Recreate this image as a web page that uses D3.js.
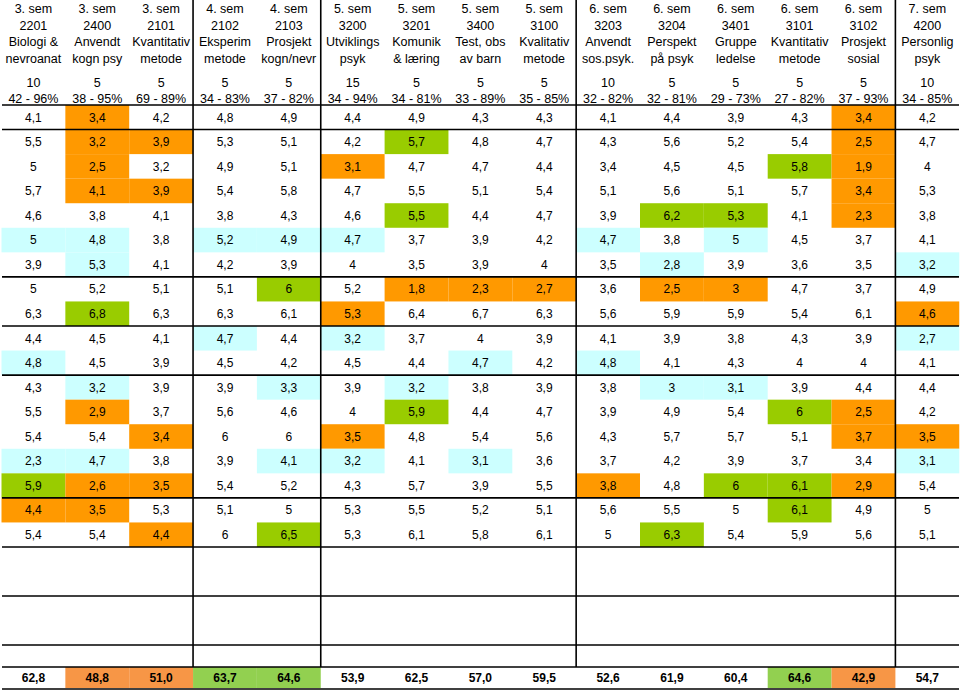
<!DOCTYPE html>
<html>
<head>
<meta charset="utf-8">
<script src="https://cdn.jsdelivr.net/npm/d3@7"></script>
<style>
  html, body { margin: 0; padding: 0; background: #fff; }
  svg { display: block; }
  text { font-family: "Liberation Sans", Arial, sans-serif; fill: #000; }
</style>
</head>
<body>
<svg id="chart" width="960" height="693"></svg>
<script>
// ---------- data ----------
const semesters = ["3. sem","3. sem","3. sem","4. sem","4. sem","5. sem","5. sem","5. sem","5. sem","6. sem","6. sem","6. sem","6. sem","6. sem","7. sem"];
const codes = ["2201","2400","2101","2102","2103","3200","3201","3400","3100","3203","3204","3401","3101","3102","4200"];
const names1 = ["Biologi &","Anvendt","Kvantitativ","Eksperim","Prosjekt","Utviklings","Komunik","Test, obs","Kvalitativ","Anvendt","Perspekt","Gruppe","Kvantitativ","Prosjekt","Personlig"];
const names2 = ["nevroanat","kogn psy","metode","metode","kogn/nevr","psyk","& læring","av barn","metode","sos.psyk.","på psyk","ledelse","metode","sosial","psyk"];
const credits = [10,5,5,5,5,15,5,5,5,10,5,5,5,5,10];
const ranges = ["42 - 96%","38 - 95%","69 - 89%","34 - 83%","37 - 82%","34 - 94%","34 - 81%","33 - 89%","35 - 85%","32 - 82%","32 - 81%","29 - 73%","27 - 82%","37 - 93%","34 - 85%"];

const values = [
  [4.1,3.4,4.2,4.8,4.9,4.4,4.9,4.3,4.3,4.1,4.4,3.9,4.3,3.4,4.2],
  [5.5,3.2,3.9,5.3,5.1,4.2,5.7,4.8,4.7,4.3,5.6,5.2,5.4,2.5,4.7],
  [5,2.5,3.2,4.9,5.1,3.1,4.7,4.7,4.4,3.4,4.5,4.5,5.8,1.9,4],
  [5.7,4.1,3.9,5.4,5.8,4.7,5.5,5.1,5.4,5.1,5.6,5.1,5.7,3.4,5.3],
  [4.6,3.8,4.1,3.8,4.3,4.6,5.5,4.4,4.7,3.9,6.2,5.3,4.1,2.3,3.8],
  [5,4.8,3.8,5.2,4.9,4.7,3.7,3.9,4.2,4.7,3.8,5,4.5,3.7,4.1],
  [3.9,5.3,4.1,4.2,3.9,4,3.5,3.9,4,3.5,2.8,3.9,3.6,3.5,3.2],
  [5,5.2,5.1,5.1,6,5.2,1.8,2.3,2.7,3.6,2.5,3,4.7,3.7,4.9],
  [6.3,6.8,6.3,6.3,6.1,5.3,6.4,6.7,6.3,5.6,5.9,5.9,5.4,6.1,4.6],
  [4.4,4.5,4.1,4.7,4.4,3.2,3.7,4,3.9,4.1,3.9,3.8,4.3,3.9,2.7],
  [4.8,4.5,3.9,4.5,4.2,4.5,4.4,4.7,4.2,4.8,4.1,4.3,4,4,4.1],
  [4.3,3.2,3.9,3.9,3.3,3.9,3.2,3.8,3.9,3.8,3,3.1,3.9,4.4,4.4],
  [5.5,2.9,3.7,5.6,4.6,4,5.9,4.4,4.7,3.9,4.9,5.4,6,2.5,4.2],
  [5.4,5.4,3.4,6,6,3.5,4.8,5.4,5.6,4.3,5.7,5.7,5.1,3.7,3.5],
  [2.3,4.7,3.8,3.9,4.1,3.2,4.1,3.1,3.6,3.7,4.2,3.9,3.7,3.4,3.1],
  [5.9,2.6,3.5,5.4,5.2,4.3,5.7,3.9,5.5,3.8,4.8,6,6.1,2.9,5.4],
  [4.4,3.5,5.3,5.1,5,5.3,5.5,5.2,5.1,5.6,5.5,5,6.1,4.9,5],
  [5.4,5.4,4.4,6,6.5,5.3,6.1,5.8,6.1,5,6.3,5.4,5.9,5.6,5.1]
];
// highlight per cell: o = orange (low), g = green (high), b = light blue, . = none
const highlights = [
  ".o...........o.",
  ".oo...g......o.",
  ".o...o......go.",
  ".oo..........o.",
  "......g...gg.o.",
  "bb.bbb...b.b...",
  ".b........b...b",
  "....g.ooo.oo...",
  ".g...o........o",
  "...b.b........b",
  "b......b.b.....",
  ".b..b.b...bb...",
  ".o....g.....go.",
  "..o..o.......oo",
  "bb..bb.b......b",
  "goo......o.ggo.",
  "oo..........g..",
  "..o.g.....g...."
];
const totals = [62.8,48.8,51.0,63.7,64.6,53.9,62.5,57.0,59.5,52.6,61.9,60.4,64.6,42.9,54.7];
const totalHighlights = ".oogg.......go.";
const groupBreaks = [1,7,9,11,16,18];     // row indices where a horizontal rule is drawn
const semesterBreaks = [3,5,9,14];         // column indices where a vertical rule is drawn

// ---------- layout ----------
const W = 960, H = 693;
const svg = d3.select("#chart");
const cols = d3.range(semesters.length);
const x = d3.scaleBand().domain(cols).range([1.5, 959.25]).padding(0);
const y = d3.scaleLinear().domain([0, values.length]).range([105, 547]);
const blankLines = [596, 645];
const totalTop = 667, totalBottom = 689;

const fill = { o: "#FF9900", g: "#99CC00", b: "#CCFFFF" };
const totalFill = { o: "#F79646", g: "#92D050" };
const fmt = v => String(v).replace(".", ",");

// header text
const headerRows = [
  { arr: semesters, y: 13 },
  { arr: codes, y: 29.5 },
  { arr: names1, y: 46 },
  { arr: names2, y: 62.5 },
  { arr: credits, y: 87 },
  { arr: ranges, y: 102.5 }
];
const hdr = svg.append("g");
headerRows.forEach(r => {
  hdr.selectAll(null).data(r.arr).join("text")
    .attr("x", (d, i) => x(i) + x.bandwidth() / 2)
    .attr("y", r.y)
    .attr("text-anchor", "middle")
    .attr("font-size", 12.5)
    .text(d => d);
});

// data cells
const cells = [];
values.forEach((row, ri) => row.forEach((v, ci) => cells.push({ ri, ci, v, h: highlights[ri][ci] })));
const body = svg.append("g");
body.selectAll("rect").data(cells.filter(c => c.h !== ".")).join("rect")
  .attr("x", d => x(d.ci))
  .attr("y", d => y(d.ri))
  .attr("width", x.bandwidth())
  .attr("height", d => y(d.ri + 1) - y(d.ri))
  .attr("fill", d => fill[d.h]);
body.selectAll("text").data(cells).join("text")
  .attr("x", d => x(d.ci) + x.bandwidth() / 2)
  .attr("y", d => (y(d.ri) + y(d.ri + 1)) / 2 + 4.3)
  .attr("text-anchor", "middle")
  .attr("font-size", 12)
  .text(d => fmt(d.v));

// totals row
const tot = svg.append("g");
tot.selectAll("rect").data(totals.map((v, i) => ({ v, i, h: totalHighlights[i] })).filter(d => d.h !== "."))
  .join("rect")
  .attr("x", d => x(d.i))
  .attr("y", totalTop)
  .attr("width", x.bandwidth())
  .attr("height", totalBottom - totalTop - 1)
  .attr("fill", d => totalFill[d.h]);
tot.selectAll("text").data(totals).join("text")
  .attr("x", (d, i) => x(i) + x.bandwidth() / 2)
  .attr("y", (totalTop + totalBottom) / 2 + 4.3)
  .attr("text-anchor", "middle")
  .attr("font-size", 12)
  .attr("font-weight", "bold")
  .text(d => d.toFixed(1).replace(".", ","));

// rules
const rules = svg.append("g").attr("stroke", "#000").attr("stroke-width", 1.6);
const hLines = [105].concat(groupBreaks.map(r => y(r)), blankLines, [totalTop, totalBottom]);
rules.selectAll("line.h").data(hLines).join("line").attr("class", "h")
  .attr("x1", 2).attr("x2", 959)
  .attr("y1", d => d).attr("y2", d => d);
rules.selectAll("line.v").data(semesterBreaks).join("line").attr("class", "v")
  .attr("x1", d => x(d)).attr("x2", d => x(d))
  .attr("y1", 0).attr("y2", totalTop);
</script>
</body>
</html>
